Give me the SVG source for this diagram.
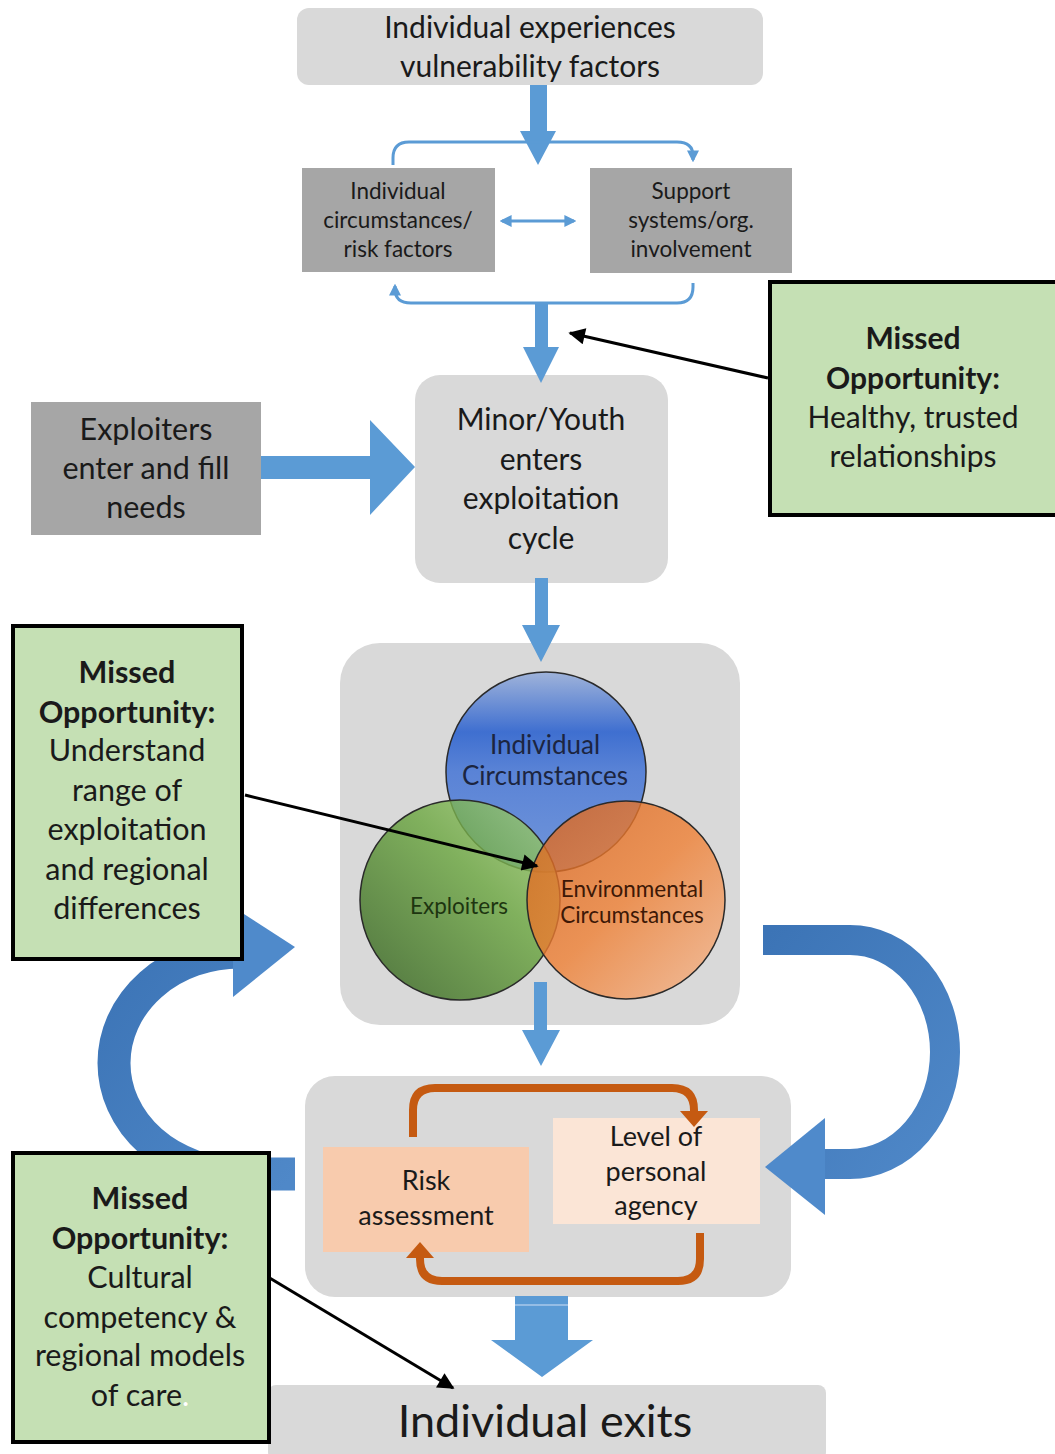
<svg xmlns="http://www.w3.org/2000/svg" width="1055" height="1454" viewBox="0 0 1055 1454">
<defs>
<style>
.t{font-family:Lato,"Open Sans","Liberation Sans",sans-serif;fill:#1a1a1a;text-anchor:middle}
.b{font-weight:bold}
.lg{fill:#d9d9d9}
.dg{fill:#a6a6a6}
.green{fill:#c5e0b4;stroke:#000;stroke-width:4}
.thin{fill:none;stroke:#5b9bd5;stroke-width:3}
.blk{fill:none;stroke:#000;stroke-width:3}
.org{fill:none;stroke:#c55a11;stroke-width:8}
.blue{fill:#5b9bd5}
</style>
<marker id="bh" viewBox="0 0 10 10" refX="8" refY="5" markerWidth="4" markerHeight="4" orient="auto-start-reverse"><path d="M0,0 L10,5 L0,10 z" fill="#5b9bd5"/></marker>
<marker id="kh" viewBox="0 0 10 10" refX="9" refY="5" markerWidth="7" markerHeight="5.5" orient="auto"><path d="M0,0 L10,5 L0,10 z" fill="#000"/></marker>
<linearGradient id="gBlue" x1="0" y1="0" x2="0" y2="1">
<stop offset="0" stop-color="#9fb3da"/><stop offset="0.3" stop-color="#3f6fd0"/><stop offset="0.5" stop-color="#5a83d6"/><stop offset="1" stop-color="#7196da"/>
</linearGradient>
<linearGradient id="gGreen" x1="1" y1="0" x2="0" y2="1">
<stop offset="0" stop-color="#a9d47a"/><stop offset="0.4" stop-color="#6aa63e"/><stop offset="1" stop-color="#2c5a17"/>
</linearGradient>
<linearGradient id="gOrange" x1="0" y1="0" x2="1" y2="1">
<stop offset="0" stop-color="#d9621a"/><stop offset="0.5" stop-color="#ef8034"/><stop offset="1" stop-color="#f6b78e"/>
</linearGradient>
<linearGradient id="gArc" x1="0" y1="0" x2="1" y2="1">
<stop offset="0" stop-color="#3c74b6"/><stop offset="1" stop-color="#4f88c8"/>
</linearGradient>
</defs>

<g id="n-top"><rect class="lg" x="297" y="8" width="466" height="77" rx="12"/>
<text class="t" x="530" y="38" font-size="30">Individual experiences</text>
<text class="t" x="530" y="77" font-size="30">vulnerability factors</text></g>

<g id="n-indiv"><rect class="dg" x="302" y="168" width="193" height="104"/>
<text class="t" x="398" y="199" font-size="22.5">Individual</text>
<text class="t" x="398" y="228" font-size="22.5">circumstances/</text>
<text class="t" x="398" y="257" font-size="22.5">risk factors</text></g>

<g id="n-support"><rect class="dg" x="590" y="168" width="202" height="105"/>
<text class="t" x="691" y="199" font-size="22.5">Support</text>
<text class="t" x="691" y="228" font-size="22.5">systems/org.</text>
<text class="t" x="691" y="257" font-size="22.5">involvement</text></g>

<g id="n-minor"><rect class="lg" x="415" y="375" width="253" height="208" rx="25"/>
<text class="t" x="541" y="430" font-size="30">Minor/Youth</text>
<text class="t" x="541" y="470" font-size="30">enters</text>
<text class="t" x="541" y="509" font-size="30">exploitation</text>
<text class="t" x="541" y="549" font-size="30">cycle</text></g>

<g id="n-exploiters"><rect class="dg" x="31" y="402" width="230" height="133"/>
<text class="t" x="146" y="440" font-size="30.5">Exploiters</text>
<text class="t" x="146" y="479" font-size="30.5">enter and fill</text>
<text class="t" x="146" y="518" font-size="30.5">needs</text></g>

<g id="n-venn"><rect class="lg" x="340" y="643" width="400" height="382" rx="40"/>
<circle cx="546" cy="772" r="100" fill="url(#gBlue)" stroke="#2a2a2a" stroke-width="1.5"/>
<circle cx="460" cy="900" r="100" fill="url(#gGreen)" fill-opacity="0.8" stroke="#2a2a2a" stroke-width="1.5"/>
<circle cx="626" cy="900" r="99" fill="url(#gOrange)" fill-opacity="0.8" stroke="#2a2a2a" stroke-width="1.5"/>
<text class="t" x="545" y="754" font-size="26" style="fill:#1c2540">Individual</text>
<text class="t" x="545" y="785" font-size="26" style="fill:#1c2540">Circumstances</text>
<text class="t" x="459" y="914" font-size="22.5" style="fill:#1d3510">Exploiters</text>
<text class="t" x="632" y="897" font-size="22.5" style="fill:#3d1806">Environmental</text>
<text class="t" x="632" y="923" font-size="22.5" style="fill:#3d1806">Circumstances</text></g>

<g id="n-loop"><rect class="lg" x="305" y="1076" width="486" height="221" rx="30"/>
<rect x="323" y="1147" width="206" height="105" fill="#f8cbad"/>
<text class="t" x="426" y="1190" font-size="27">Risk</text>
<text class="t" x="426" y="1225" font-size="27">assessment</text>
<rect x="553" y="1118" width="207" height="106" fill="#fbe5d6"/>
<text class="t" x="656" y="1146" font-size="27">Level of</text>
<text class="t" x="656" y="1181" font-size="27">personal</text>
<text class="t" x="656" y="1215" font-size="27">agency</text></g>

<g id="n-exits"><rect class="lg" x="268" y="1385" width="558" height="75" rx="8"/>
<text class="t" x="545" y="1437" font-size="45">Individual exits</text></g>

<g id="connectors">
<path class="blue" d="M530,85 H547 V131 H556 L538,165 L520,131 H530 Z"/>
<path class="thin" d="M393,165 V158 Q393,142 409,142 H677 Q693,142 693,156 V160" marker-end="url(#bh)"/>
<path class="thin" d="M693,283 V287 Q693,303 677,303 H411 Q395,303 395,289 V286" marker-end="url(#bh)"/>
<line class="thin" x1="502" y1="221" x2="574" y2="221" stroke-width="2" marker-start="url(#bh)" marker-end="url(#bh)"/>
<path class="blue" d="M535,303 H548 V347 H559 L541,383 L523,347 H535 Z"/>
<path class="blue" d="M261,456 H370 V420 L415,467 L370,515 V479 H261 Z"/>
<path class="blue" d="M535,578 H548 V625 H560 L541,662 L522,625 H535 Z"/>
<path class="blue" d="M534,982 H547 V1030 H560 L541,1066 L522,1030 H534 Z"/>
<path class="blue" d="M515,1296 H568 V1340 H593 L542,1377 L491,1340 H515 Z"/>
<line x1="515" y1="1305" x2="568" y2="1305" stroke="#a9c8ea" stroke-width="1.5"/>
<path d="M295,1174 H240 A126,111 0 0 1 114,1063 A126,111 0 0 1 240,952" fill="none" stroke="url(#gArc)" stroke-width="33"/>
<path d="M233,907 L295,947 L233,997 Z" fill="#4f8acb"/>
<path d="M763,940 H850 A95,112 0 0 1 945,1052 A95,112 0 0 1 850,1164 H824" fill="none" stroke="url(#gArc)" stroke-width="30"/>
<path d="M825,1118 L765,1167 L825,1215 Z" fill="#4f8acb"/>
<path class="org" d="M413,1137 V1110 Q413,1088 435,1088 H672 Q694,1088 694,1110 V1112"/>
<path d="M680,1111 L708,1111 L694,1127 Z" fill="#c55a11"/>
<path class="org" d="M700,1233 V1259 Q700,1281 678,1281 H442 Q420,1281 420,1259 V1257"/>
<path d="M406,1258 L434,1258 L420,1242 Z" fill="#c55a11"/>
</g>

<g id="n-mo1"><rect class="green" x="770" y="282" width="290" height="233"/>
<text class="t b" x="913" y="349" font-size="30">Missed</text>
<text class="t b" x="913" y="389" font-size="30">Opportunity:</text>
<text class="t" x="913" y="428" font-size="30">Healthy, trusted</text>
<text class="t" x="913" y="467" font-size="30">relationships</text></g>

<g id="n-mo2"><rect class="green" x="13" y="626" width="229" height="333"/>
<text class="t b" x="127" y="683" font-size="30.5">Missed</text>
<text class="t b" x="127" y="723" font-size="30.5">Opportunity:</text>
<text class="t" x="127" y="761" font-size="30.5">Understand</text>
<text class="t" x="127" y="801" font-size="30.5">range of</text>
<text class="t" x="127" y="840" font-size="30.5">exploitation</text>
<text class="t" x="127" y="880" font-size="30.5">and regional</text>
<text class="t" x="127" y="919" font-size="30.5">differences</text></g>

<g id="n-mo3"><rect class="green" x="13" y="1153" width="256" height="289"/>
<text class="t b" x="140" y="1209" font-size="30.5">Missed</text>
<text class="t b" x="140" y="1249" font-size="30.5">Opportunity:</text>
<text class="t" x="140" y="1288" font-size="30.5">Cultural</text>
<text class="t" x="140" y="1328" font-size="30.5">competency &amp;</text>
<text class="t" x="140" y="1366" font-size="30.5">regional models</text>
<text class="t" x="140" y="1406" font-size="30.5">of care<tspan style="fill:#ffffff">.</tspan></text></g>

<g id="pointers">
<line class="blk" x1="768" y1="378" x2="570" y2="333" marker-end="url(#kh)"/>
<line class="blk" x1="245" y1="795" x2="537" y2="866" marker-end="url(#kh)"/>
<line class="blk" x1="268" y1="1277" x2="453" y2="1388" marker-end="url(#kh)"/>
</g>
</svg>
